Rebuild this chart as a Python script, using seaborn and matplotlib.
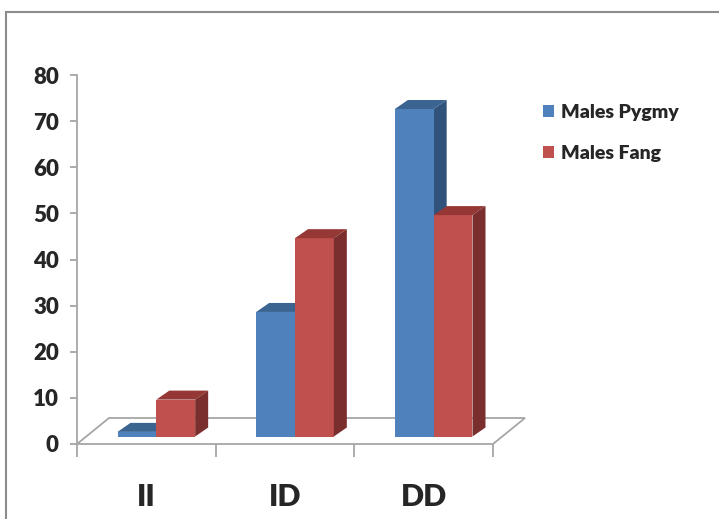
import numpy as np
import pandas as pd
import matplotlib.pyplot as plt
import seaborn as sns
from matplotlib.patches import Polygon, Patch, Rectangle
from matplotlib.transforms import ScaledTranslation

# data
genotypes = ['II', 'ID', 'DD']
series = ['Males Pygmy', 'Males Fang']
pygmy = [1, 27, 71]
fang = [8, 43, 48]

front_colors = ['#4F81BD', '#C0504D']
top_colors = ['#3C6491', '#953735']
side_colors = ['#30527B', '#7A2E2D']

df = pd.DataFrame({
    'Genotype': genotypes * 2,
    'Value': pygmy + fang,
    'Series': [series[0]] * 3 + [series[1]] * 3,
})

sns.set_style('white')
plt.rcParams['font.family'] = ['Lato', 'DejaVu Sans']

fig = plt.figure(figsize=(7.19, 5.19), dpi=100)
ax = fig.add_axes([77 / 719, 75 / 519, 416 / 719, 369 / 519])

sns.barplot(data=df, x='Genotype', y='Value', hue='Series', order=genotypes,
            hue_order=series, palette=front_colors, width=0.56,
            saturation=1, ax=ax, legend=False, linewidth=0)

ax.set_xlim(-0.5, 2.5)
ax.set_ylim(0, 80)
ax.set_xlabel('')
ax.set_ylabel('')

# bars sit a little behind the front edge of the floor
shift = ScaledTranslation(0.10, 0.075, fig.dpi_scale_trans)
depth = np.array([13, 9])  # pixels, back-right of each bar
to_disp = ax.transData.transform
to_data = ax.transData.inverted().transform

bars = ax.patches
n = len(genotypes)
for i, bar in enumerate(bars):
    s = i // n
    bar.set_transform(ax.transData + shift)
    bar.set_zorder(3)
    x0, x1 = bar.get_x(), bar.get_x() + bar.get_width()
    y1 = bar.get_height()
    (px0, py0), (px1, py1) = to_disp([(x0, 0), (x1, y1)])
    px0 += 10; px1 += 10; py0 += 7.5; py1 += 7.5
    top = [(px0, py1), (px1, py1), (px1 + depth[0], py1 + depth[1]), (px0 + depth[0], py1 + depth[1])]
    side = [(px1, py0), (px1, py1), (px1 + depth[0], py1 + depth[1]), (px1 + depth[0], py0 + depth[1])]
    z = 2 if s == 0 else 3.5
    ax.add_patch(Polygon(to_data(top), closed=True, facecolor=top_colors[s],
                         edgecolor='none', zorder=z, clip_on=False))
    ax.add_patch(Polygon(to_data(side), closed=True, facecolor=side_colors[s],
                         edgecolor='none', zorder=z, clip_on=False))

# floor
fl, fr = to_disp([(-0.5, 0), (2.5, 0)])
floor = [fl, fr, fr + np.array([32, 26]), fl + np.array([32, 26])]
ax.add_patch(Polygon(to_data(floor), closed=True, facecolor='white',
                     edgecolor='#A6A6A6', linewidth=1.3, zorder=1, clip_on=False))

for sp in ['top', 'right', 'bottom']:
    ax.spines[sp].set_visible(False)
ax.spines['left'].set_color('#A6A6A6')
ax.spines['left'].set_linewidth(1.3)

ax.set_yticks(range(0, 81, 10))
ax.tick_params(axis='y', left=True, length=5, width=1.3, color='#A6A6A6',
               labelsize=16, pad=8)
for lab in ax.get_yticklabels():
    lab.set_fontweight('heavy')

ax.set_xticks([-0.5, 0.5, 1.5, 2.5])
ax.set_xticklabels([])
ax.set_xticks(range(len(genotypes)), minor=True)
ax.set_xticklabels(genotypes, minor=True, fontsize=22, fontweight='heavy')
ax.tick_params(axis='x', which='major', bottom=True, length=9, width=1.3,
               color='#A6A6A6')
ax.tick_params(axis='x', which='minor', bottom=False, pad=26)

handles = [Patch(facecolor=c, edgecolor='none') for c in front_colors]
leg = fig.legend(handles, series, loc='upper left',
                 bbox_to_anchor=(535 / 719, 1 - 96 / 519), frameon=False,
                 handlelength=0.6, handleheight=0.6, handletextpad=0.35,
                 labelspacing=1.25, borderaxespad=0,
                 prop={'size': 14, 'weight': 'heavy'})

fig.patches.append(Rectangle((6 / 719, -0.05), 1.1, 1 - 12 / 519 + 0.05,
                             transform=fig.transFigure, fill=False,
                             edgecolor='#8C8C8C', linewidth=1.5))

fig.savefig('out.png', dpi=100)
